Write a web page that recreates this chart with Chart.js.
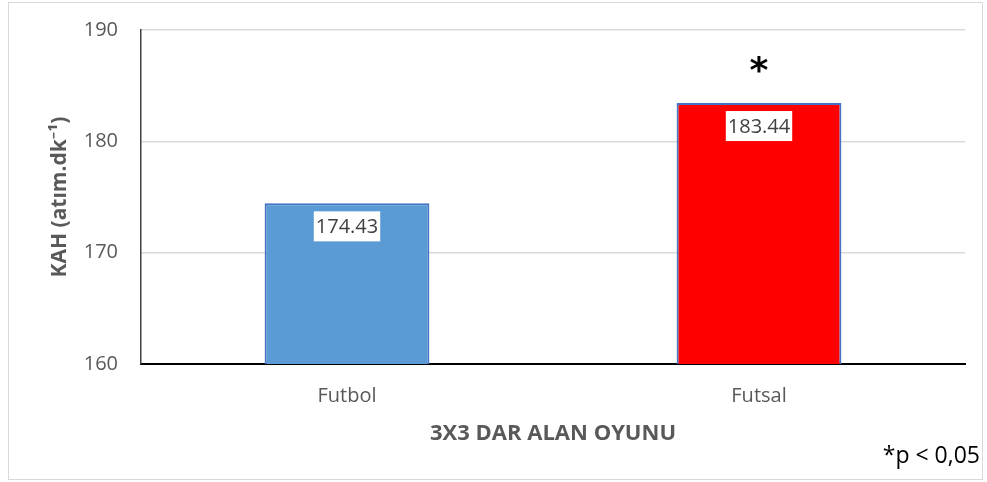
<!DOCTYPE html>
<html>
<head>
<meta charset="utf-8">
<script src="https://cdn.jsdelivr.net/npm/chart.js@4.4.1/dist/chart.umd.min.js"></script>
<style>
  html, body { margin: 0; padding: 0; background: #fff; }
  #wrap { width: 987px; height: 482px; }
</style>
</head>
<body>
<div id="wrap"><canvas id="myChart" width="987" height="482"></canvas></div>
<script>
// chart values
const categories = ['Futbol', 'Futsal'];
const kahValues = [174.43, 183.44];
const barColors = ['#5B9BD5', '#FF0000'];
const sigMarks = ['', '*'];
const yTicks = [160, 170, 180, 190];
const yTitle = 'KAH (atım.dk⁻¹)';
const xTitle = '3X3 DAR ALAN OYUNU';
const footNote = '*p < 0,05';

const FONT = '"Open Sans", "Noto Sans", sans-serif';

// labels in white boxes, asterisk above the bar, footnote, outer frame
const extras = {
  id: 'extras',
  beforeDraw(chart) {
    const ctx = chart.ctx;
    ctx.save();
    ctx.fillStyle = '#fff';
    ctx.fillRect(0, 0, chart.width, chart.height);
    ctx.strokeStyle = '#D9D9D9';
    ctx.lineWidth = 1;
    ctx.strokeRect(8.5, 2.5, 974, 477);
    ctx.restore();
  },
  afterDatasetsDraw(chart) {
    const ctx = chart.ctx;
    const meta = chart.getDatasetMeta(0);
    ctx.save();
    meta.data.forEach((bar, i) => {
      const txt = kahValues[i].toFixed(2);
      ctx.font = '20px ' + FONT;
      const w = ctx.measureText(txt).width + 4;
      const cy = bar.y + 23;
      ctx.fillStyle = '#fff';
      ctx.fillRect(bar.x - w / 2, cy - 15, w, 30);
      ctx.fillStyle = '#404040';
      ctx.textAlign = 'center';
      ctx.textBaseline = 'middle';
      ctx.fillText(txt, bar.x, cy + 1);
      if (sigMarks[i]) {
        ctx.font = 'bold 36px "DejaVu Sans", sans-serif';
        ctx.fillStyle = '#000';
        ctx.fillText(sigMarks[i], bar.x, bar.y - 30);
      }
    });
    ctx.font = '23px ' + FONT;
    ctx.fillStyle = '#000';
    ctx.textAlign = 'right';
    ctx.textBaseline = 'middle';
    ctx.fillText(footNote, 980, 456);
    ctx.restore();
  }
};

const ctx = document.getElementById('myChart').getContext('2d');
const myChart = new Chart(ctx, {
  type: 'bar',
  data: {
    labels: categories,
    datasets: [{
      label: 'KAH',
      data: kahValues,
      backgroundColor: barColors,
      borderColor: '#4472C4',
      borderWidth: 2,
      borderSkipped: 'start',
      barPercentage: 1,
      categoryPercentage: 0.4
    }]
  },
  options: {
    responsive: false,
    animation: false,
    layout: { padding: { left: 0, right: 22, top: 30, bottom: 0 } },
    plugins: {
      legend: { display: false },
      tooltip: { enabled: false }
    },
    scales: {
      x: {
        afterFit: s => { s.height = 118; s.paddingLeft = 0; s.paddingRight = 0; },
        grid: { display: false, drawTicks: false },
        border: { display: true, color: '#000', width: 2 },
        ticks: { color: '#595959', font: { family: FONT, size: 20 }, padding: 20 },
        title: {
          display: true,
          text: xTitle,
          color: '#595959',
          font: { family: FONT, size: 22, weight: 'bold' },
          padding: { top: 0, bottom: 35 }
        }
      },
      y: {
        min: yTicks[0],
        max: yTicks[yTicks.length - 1],
        afterFit: s => { s.width = 141; s.paddingTop = 0; s.paddingBottom = 0; },
        afterBuildTicks: s => { s.ticks = yTicks.map(v => ({ value: v })); },
        grid: { color: '#D9D9D9', lineWidth: 1.5, drawTicks: false },
        border: { display: true, color: '#404040', width: 1.5 },
        ticks: { color: '#595959', font: { family: FONT, size: 20 }, padding: 23 },
        title: {
          display: true,
          text: yTitle,
          color: '#595959',
          font: { family: FONT, size: 21, weight: 'bold' },
          padding: { top: 47, bottom: 0 }
        }
      }
    }
  },
  plugins: [extras]
});
</script>
</body>
</html>
